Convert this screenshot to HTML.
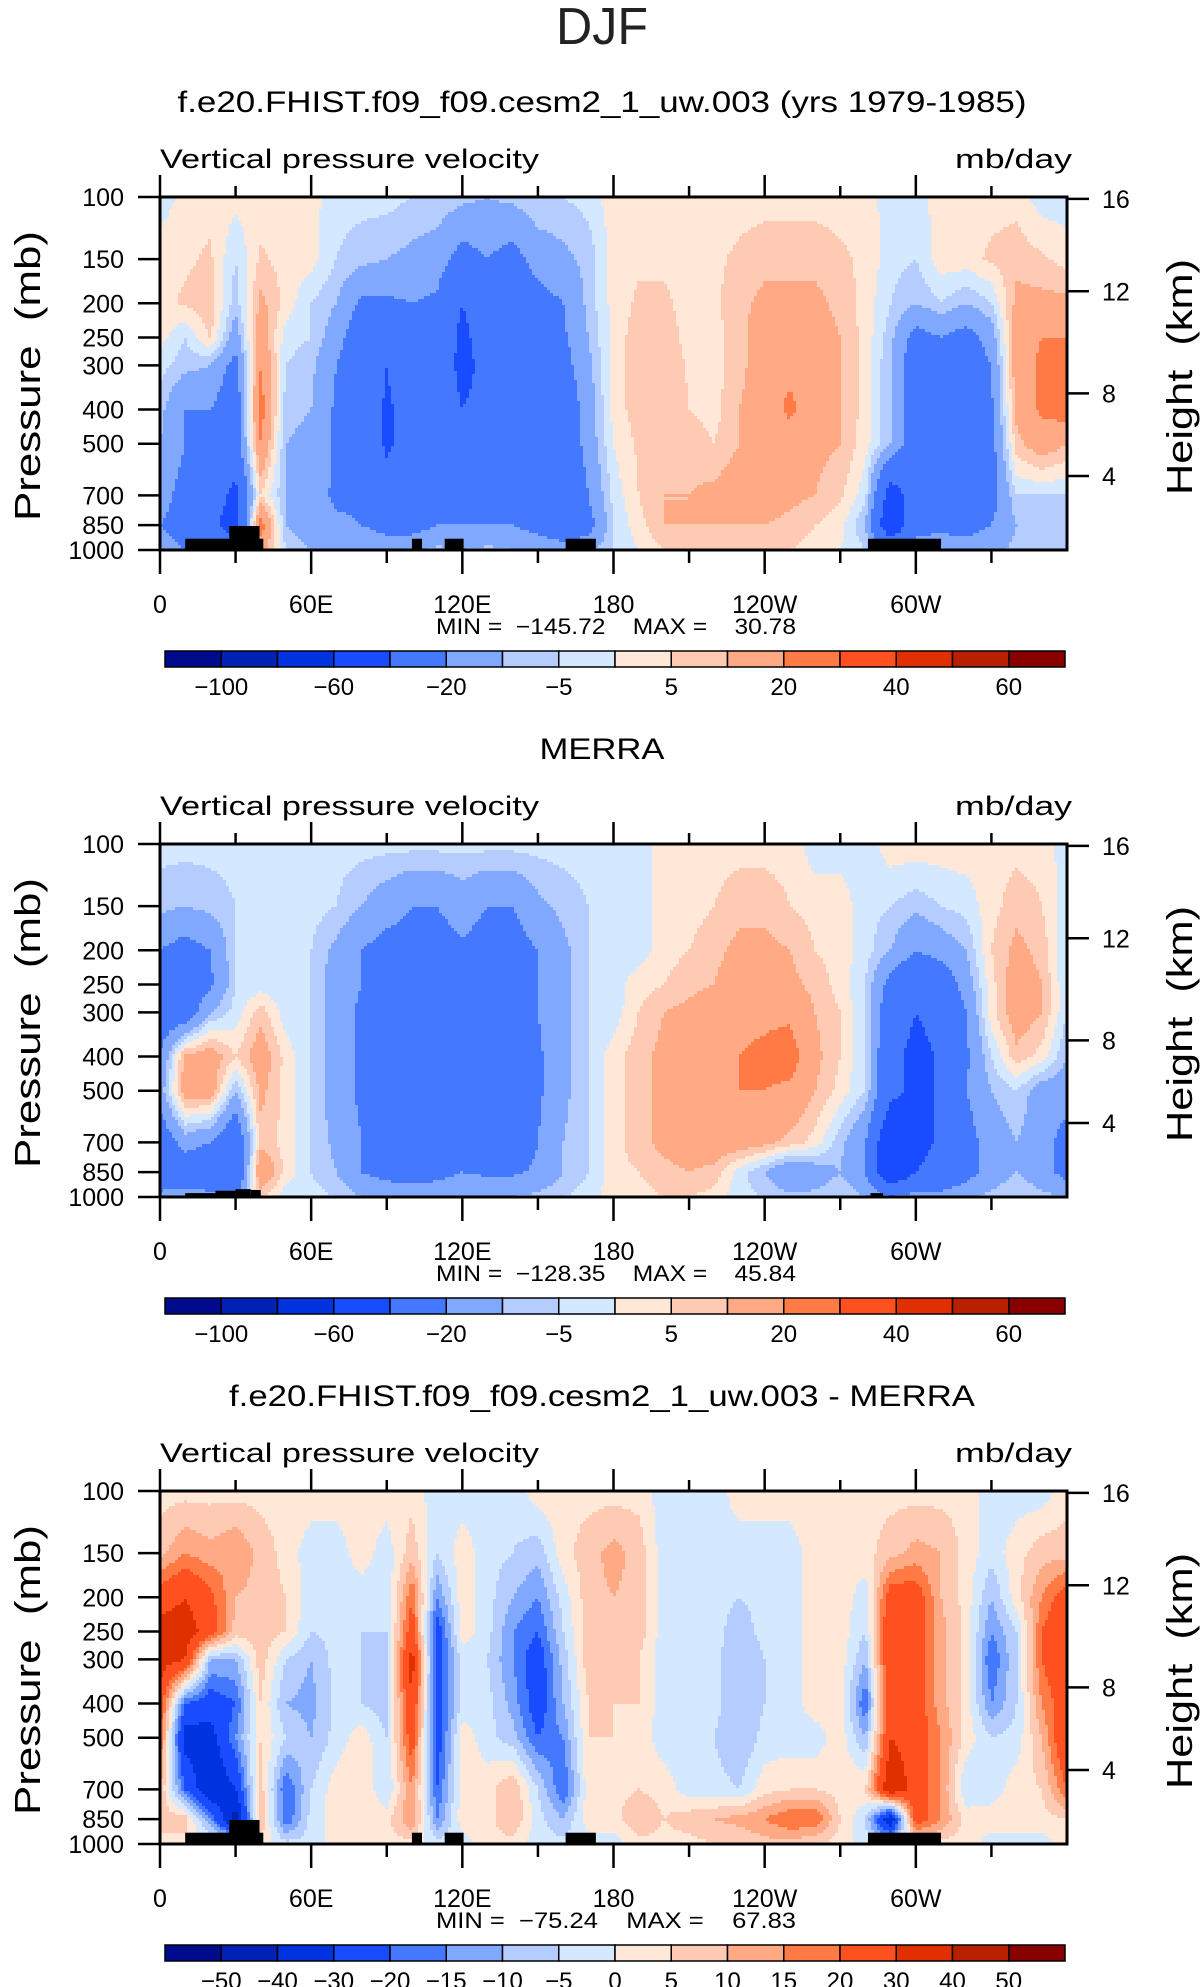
<!DOCTYPE html>
<html><head><meta charset="utf-8"><title>DJF Vertical pressure velocity</title>
<style>
html,body{margin:0;padding:0;background:#fff;}
svg{display:block;font-family:"Liberation Sans",sans-serif;}
text{white-space:pre;}
</style></head>
<body>
<svg id="fig" width="1202" height="1987" viewBox="0 0 1202 1987" xmlns="http://www.w3.org/2000/svg">
<rect x="0" y="0" width="1202" height="1987" fill="#fff"/>
<text x="602" y="44" font-size="52" text-anchor="middle" fill="#222" textLength="92" lengthAdjust="spacingAndGlyphs">DJF</text>
</svg>
<script>
// ---- data ----
const lons = [0,10,20,30,40,50,60,70,80,90,100,110,120,130,140,150,160,170,180,190,200,210,220,230,240,250,260,270,280,290,300,310,320,330,340,350,360];
const levels = [100,150,200,250,300,400,500,700,850,1000];
const pressureTicks = [100,150,200,250,300,400,500,700,850,1000];
const heightTicks = ['16','12','8','4'];
const heightTickPressures = [101.2,185,360,617];
const lonTicks = [0,60,120,180,240,300];
const lonTickLabels = ['0','60E','120E','180','120W','60W'];
const colors = ['#000a8c','#0022b4','#0033e0','#1a4cff','#4478ff','#80a8ff','#b4ccff','#d4e8ff','#ffe8d8','#ffcab4','#ffaa84','#ff7a44','#ff5020','#e03000','#b82000','#880000'];
const levelsAbs = [-100,-80,-60,-40,-20,-10,-5,0,5,10,20,30,40,50,60];
const labelsAbs = ['-100','-60','-20','-5','5','20','40','60'];
const labelIdxAbs = [0,2,4,6,8,10,12,14];
const levelsDiff = [-50,-40,-30,-20,-15,-10,-5,0,5,10,15,20,30,40,50];
const labelsDiff = ['-50','-40','-30','-20','-15','-10','-5','0','5','10','15','20','30','40','50'];
const labelIdxDiff = [0,1,2,3,4,5,6,7,8,9,10,11,12,13,14];

const model = [
[-3,2,3,2,2,2,2,-3,-3,-3,-5,-5,-8,-10,-8,-5,-5,-3,3,3,3,3,3,3,3,3,3,3,3,-3,-3,3,3,3,3,-3,-3],
[3,4,6,-5,6,3,2,-5,-8,-10,-12,-15,-25,-20,-25,-15,-12,-8,2,4,4,3,4,6,8,8,8,6,4,-3,-5,3,3,6,8,6,3],
[3,6,8,-8,12,3,-5,-10,-22,-22,-20,-22,-40,-25,-30,-25,-20,-8,2,6,6,3,4,8,12,12,12,8,3,-5,-10,-5,-10,-5,12,12,12],
[2,-5,6,-15,15,-3,-5,-15,-30,-35,-25,-25,-45,-30,-32,-30,-22,-10,2,8,8,3,3,8,15,15,15,10,3,-8,-25,-20,-25,-15,15,20,20],
[-3,-8,-10,-25,20,-5,-8,-20,-30,-40,-30,-28,-45,-35,-35,-35,-25,-12,2,8,10,4,3,8,15,18,15,10,3,-10,-30,-25,-30,-20,15,22,25],
[-8,-20,-20,-30,25,-8,-10,-22,-30,-42,-35,-30,-40,-35,-35,-40,-30,-15,2,8,10,5,3,10,15,22,15,10,3,-10,-30,-25,-35,-22,12,22,25],
[-10,-20,-25,-30,20,-10,-12,-22,-28,-42,-35,-30,-35,-32,-35,-40,-32,-15,0,6,10,8,5,10,15,15,12,10,2,-10,-30,-25,-35,-25,8,15,10],
[-15,-25,-30,-45,5,-10,-15,-22,-22,-35,-30,-30,-30,-28,-30,-40,-40,-20,-3,5,10,10,12,15,15,12,10,6,-3,-50,-30,-28,-35,-25,-5,-5,-5],
[-20,-25,-35,-50,25,-10,-15,-18,-20,-25,-25,-20,-20,-20,-20,-25,-30,-25,-5,3,10,10,10,10,10,8,5,2,-10,-60,-25,-22,-25,-20,-10,-10,-10],
[-15,-20,-25,-30,15,-5,-10,-10,-10,-12,-12,-8,-10,-8,-10,-12,-15,-12,-5,0,5,5,5,5,5,5,3,0,-5,-20,-15,-15,-15,-12,-8,-8,-8]];

const merra = [
[-3,-3,-3,-3,-3,-3,-3,-3,-3,-3,-3,-3,-3,-3,-3,-3,-3,-3,-3,-3,3,3,3,3,3,3,-3,-3,-3,3,3,3,3,3,3,3,-3],
[-8,-10,-8,-5,-3,-3,-3,-5,-10,-15,-20,-20,-15,-20,-20,-12,-8,-5,-3,-3,3,3,5,8,8,5,3,3,-3,-5,-8,-5,-3,3,8,5,-3],
[-20,-25,-20,-5,-5,-3,-5,-12,-20,-25,-25,-25,-22,-25,-25,-20,-12,-5,-3,-3,3,5,8,12,12,10,5,3,-3,-10,-20,-15,-10,5,12,8,-5],
[-25,-30,-22,-5,-3,-3,-5,-15,-20,-25,-30,-25,-25,-30,-28,-20,-12,-5,-3,3,5,8,10,15,15,12,8,3,-5,-25,-35,-30,-15,3,15,10,-5],
[-30,-30,-10,-3,8,-3,-5,-15,-22,-28,-35,-30,-25,-32,-30,-20,-12,-5,-3,5,10,12,15,18,18,18,10,5,-5,-30,-40,-35,-20,3,15,10,-5],
[-20,12,15,5,15,3,-5,-15,-22,-30,-38,-30,-25,-32,-35,-22,-12,-5,3,8,12,15,18,20,22,25,12,5,-5,-35,-45,-38,-22,-5,8,3,-10],
[-15,15,15,-10,12,3,-5,-15,-22,-30,-40,-28,-25,-32,-35,-22,-12,-5,3,8,12,15,18,20,20,18,10,3,-5,-35,-45,-38,-20,-10,-5,-15,-15],
[-30,-15,-20,-35,8,3,-5,-12,-20,-30,-35,-28,-25,-32,-30,-20,-10,-5,3,8,12,15,15,15,12,8,3,-8,-20,-60,-45,-38,-25,-15,-10,-15,-25],
[-35,-30,-35,-40,20,3,-5,-10,-20,-25,-30,-25,-20,-22,-22,-18,-10,-5,3,5,8,10,8,-3,-10,-20,-15,-10,-20,-60,-40,-35,-25,-15,-10,-15,-25],
[-15,-15,-15,-20,5,-3,-3,-5,-10,-10,-10,-10,-10,-10,-10,-8,-5,-3,3,3,5,5,3,-3,-5,-8,-8,-5,-10,-20,-15,-15,-12,-8,-5,-8,-10]];

const diff = [
[3,3,3,3,3,3,3,3,3,3,3,-3,-3,-3,-3,3,3,3,3,3,-3,-3,-3,3,3,3,3,3,3,3,3,3,3,-3,-3,-3,3],
[8,15,12,15,8,3,-3,-3,3,-3,8,-5,3,-3,-5,-8,3,8,12,8,-3,-3,-3,-3,-3,-3,3,3,3,8,12,10,3,-3,3,8,8],
[25,30,22,10,8,5,-3,-3,-3,-5,20,-15,3,-3,-10,-15,-3,8,10,8,-3,-3,-3,-5,-3,-3,3,3,-3,25,25,10,3,-10,3,15,25],
[35,35,25,8,8,5,-5,-3,-5,-5,25,-25,3,-3,-15,-20,-5,8,10,8,-3,-3,-3,-8,-3,-3,3,3,-5,30,25,12,3,-15,-5,20,30],
[35,30,-10,-10,8,-5,-10,-3,-5,-8,35,-25,-3,-5,-15,-25,-8,8,8,5,-3,-3,-3,-10,-5,-3,3,3,-10,30,25,12,3,-20,-5,20,30],
[25,-20,-25,-20,5,-10,-12,-3,-5,-8,30,-25,-3,-3,-12,-25,-10,5,5,5,-3,-3,-3,-10,-5,-3,3,3,-20,30,25,12,3,-15,-5,15,25],
[20,-35,-35,-15,5,-5,-10,-3,3,-5,25,-25,3,-3,-8,-20,-15,5,5,3,-3,-3,-5,-10,-3,-3,-3,3,-10,30,25,15,3,-5,-3,10,30],
[10,-20,-40,-30,8,-20,-5,3,5,-5,15,-20,3,3,10,-5,-20,3,3,5,3,-3,-3,-5,3,5,5,3,5,40,25,15,-5,-3,3,5,20],
[8,8,-15,-45,10,-20,-3,3,5,3,15,-15,3,3,10,-3,-10,3,3,10,5,8,10,12,15,20,20,5,-5,-40,25,15,3,3,3,3,5],
[3,3,3,3,3,-3,-3,3,3,3,3,-3,-3,3,3,-3,-3,-3,-3,3,3,3,5,5,8,8,5,3,-3,-3,3,3,3,-3,-3,-3,3]];

// topography blocks: [lonStart, lonEnd, pressureTop]
const topoModel = [[10,41,929],[27.5,39.5,855],[100,104,929],[113,120.5,929],[161,173,929],[281,310,929]];
const topoMerra = [[10,26,975],[22,30,960],[30,36,950],[36,40,955],[282,287,975]];

const panels = [
 {key:'model', title:'f.e20.FHIST.f09_f09.cesm2_1_uw.003 (yrs 1979-1985)', tlen:849, top:197, field:model, lev:levelsAbs, labs:labelsAbs, labIdx:labelIdxAbs, topo:topoModel, stats:'MIN =  \u2212145.72    MAX =    30.78'},
 {key:'merra', title:'MERRA', tlen:125, top:844, field:merra, lev:levelsAbs, labs:labelsAbs, labIdx:labelIdxAbs, topo:topoMerra, stats:'MIN =  \u2212128.35    MAX =    45.84'},
 {key:'diff', title:'f.e20.FHIST.f09_f09.cesm2_1_uw.003 - MERRA', tlen:746, top:1491, field:diff, lev:levelsDiff, labs:labelsDiff, labIdx:labelIdxDiff, topo:topoModel, stats:'MIN =  \u221275.24    MAX =    67.83'}
];

const NS='http://www.w3.org/2000/svg';
const svg=document.getElementById('fig');
const X0=160, X1=1067, PH=353;
function xScale(lon){return X0+(lon/360)*(X1-X0);}
function yScale(p,top){return top+(Math.log10(p)-2)*PH;}
function mk(tag,attrs,parent){const e=document.createElementNS(NS,tag);for(const k in attrs)e.setAttribute(k,attrs[k]);(parent||svg).appendChild(e);return e;}
function txt(s,attrs,parent){const e=mk('text',attrs,parent);e.textContent=s;return e;}
function sample(field,lon,p){
  lon=Math.max(0,Math.min(359.999,lon));
  let i=Math.min(lons.length-2,Math.max(0,Math.floor(lon/10)));
  const tx=(lon-lons[i])/(lons[i+1]-lons[i]);
  const lp=Math.log10(p);
  let j=0;while(j<levels.length-2 && Math.log10(levels[j+1])<lp)j++;
  let ty=(lp-Math.log10(levels[j]))/(Math.log10(levels[j+1])-Math.log10(levels[j]));
  ty=Math.max(0,Math.min(1,ty));
  const a=field[j][i]*(1-tx)+field[j][i+1]*tx;
  const b=field[j+1][i]*(1-tx)+field[j+1][i+1]*tx;
  return a*(1-ty)+b*ty;
}
function colorIdx(v,lev){let k=0;while(k<lev.length&&v>=lev[k])k++;return k;}

panels.forEach((P,pi)=>{
  const g=mk('g',{});
  
  
  const off=P.top-197;
  const t=txt(P.title,{x:602,y:112+off,'font-size':30,'text-anchor':'middle',fill:'#000',textLength:P.tlen,lengthAdjust:'spacingAndGlyphs'},g);
  
  
  const vt=txt('Vertical pressure velocity',{x:160,y:168+off,'font-size':27,fill:'#000',textLength:379,lengthAdjust:'spacingAndGlyphs'},g);
  
  
  const ut=txt('mb/day',{x:1072,y:168+off,'font-size':27,'text-anchor':'end',fill:'#000',textLength:117,lengthAdjust:'spacingAndGlyphs'},g);
  
  
  // field
  const fg=mk('g',{},g);
  
  
  const step=3;
  for(let y=P.top;y<P.top+PH;y+=step){
    const p=Math.pow(10,2+((y+step/2)-P.top)/PH);
    let runStart=X0,runC=-1;
    for(let x=X0;x<X1+step;x+=step){
      let c=-1;
      if(x<X1){const lon=((x+step/2)-X0)/(X1-X0)*360;c=colorIdx(sample(P.field,lon,p),P.lev);}
      if(c!==runC){
        if(runC>=0){const r=mk('rect',{x:runStart,y:y,width:Math.min(x,X1)-runStart+0.6,height:Math.min(step,P.top+PH-y)+0.6,fill:colors[runC]},fg);
          
          }
        runStart=x;runC=c;
      }
    }
  }
  // topography
  P.topo.forEach(b=>{
    const x0=xScale(b[0]),x1=xScale(b[1]),yt=yScale(b[2],P.top);
    const r=mk('rect',{x:x0,y:yt,width:x1-x0,height:P.top+PH-yt,fill:'#000'},g);
    
    
  });
  // frame
  const fr=mk('rect',{x:X0,y:P.top,width:X1-X0,height:PH,fill:'none',stroke:'#000','stroke-width':3},g);
  
  
  // lon ticks
  for(let lon=0;lon<=330;lon+=30){
    const x=xScale(lon),major=lon%60===0;
    const l1=mk('line',{x1:x,x2:x,y1:P.top,y2:P.top-(major?22:11),stroke:'#000','stroke-width':2.5},g);
    
    
    const l2=mk('line',{x1:x,x2:x,y1:P.top+PH,y2:P.top+PH+(major?24:13),stroke:'#000','stroke-width':2.5},g);
    
    
  }
  lonTicks.forEach((lon,k)=>{
    const e=txt(lonTickLabels[k],{x:xScale(lon),y:613+off,'font-size':25,'text-anchor':'middle',fill:'#000'},g);
    
    
  });
  // pressure ticks
  pressureTicks.forEach(p=>{
    const y=yScale(p,P.top);
    const l=mk('line',{x1:X0-22,x2:X0,y1:y,y2:y,stroke:'#000','stroke-width':2.5},g);
    
    
    const e=txt(String(p),{x:124,y:y+9,'font-size':25,'text-anchor':'end',fill:'#000'},g);
    
    
  });
  heightTicks.forEach((h,k)=>{
    const y=yScale(heightTickPressures[k],P.top);
    const l=mk('line',{x1:X1,x2:X1+22,y1:y,y2:y,stroke:'#000','stroke-width':2.5},g);
    
    
    const e=txt(h,{x:1102,y:y+9,'font-size':25,fill:'#000'},g);
    
    
  });
  const yl=txt('Pressure  (mb)',{x:0,y:0,'font-size':36,'text-anchor':'middle',fill:'#000',transform:'translate(40,'+(376+off)+') rotate(-90)',textLength:290,lengthAdjust:'spacingAndGlyphs'},g);
  
  
  const yr=txt('Height  (km)',{x:0,y:0,'font-size':36,'text-anchor':'middle',fill:'#000',transform:'translate(1192,'+(377+off)+') rotate(-90)',textLength:236,lengthAdjust:'spacingAndGlyphs'},g);
  
  
  const st=txt(P.stats,{x:616,y:634+off,'font-size':22,'text-anchor':'middle',fill:'#000',textLength:360,lengthAdjust:'spacingAndGlyphs'},g);
  
  
  // colorbar
  const cb=mk('g',{},g);
  
  
  const cx0=165,cx1=1065,cw=(cx1-cx0)/16,cy=651+off;
  colors.forEach((c,k)=>{
    const r=mk('rect',{x:cx0+k*cw,y:cy,width:cw,height:16,fill:c,stroke:'#000','stroke-width':1.5},cb);
    
    
  });
  P.labIdx.forEach((bi,k)=>{
    const e=txt(P.labs[k].replace('-','\u2212'),{x:cx0+(bi+1)*cw,y:695+off,'font-size':24,'text-anchor':'middle',fill:'#000'},cb);
    
    
  });
});
</script>
</body></html>
